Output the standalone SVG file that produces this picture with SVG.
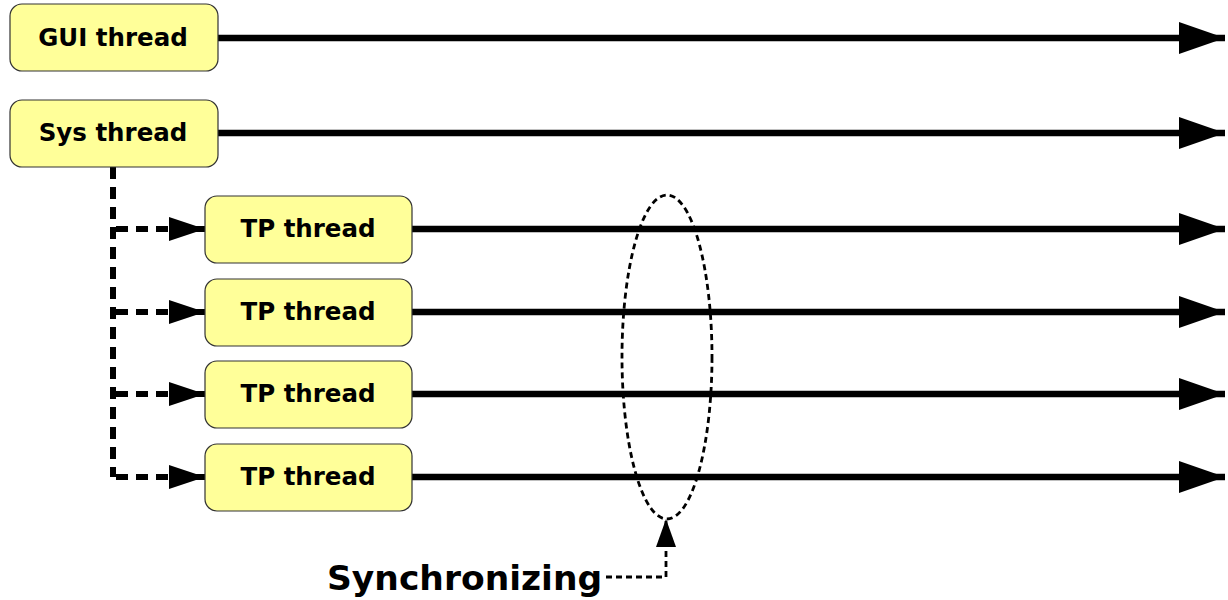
<svg xmlns="http://www.w3.org/2000/svg" width="1228" height="600" viewBox="0 0 1228 600">
  <style>
    .box { fill: #ffff99; stroke: #333333; stroke-width: 1.2; }
    .label { font-family: "DejaVu Sans", sans-serif; font-weight: bold; font-size: 24.5px; text-anchor: middle; fill: #000; }
    .timeline { stroke: #000; stroke-width: 6.5; fill: none; }
    .spawn { stroke: #000; stroke-width: 6; fill: none; stroke-dasharray: 12 8; }
    .sync { stroke: #000; stroke-width: 2.8; fill: none; stroke-dasharray: 6 4; }
    .caption { font-family: "DejaVu Sans", sans-serif; font-weight: bold; font-size: 34.5px; fill: #000; }
  </style>
  <defs>
    <marker id="bigArrow" markerUnits="userSpaceOnUse" markerWidth="46" markerHeight="32" refX="46" refY="16" orient="auto">
      <path d="M0,0 L46,16 L0,32 Z" fill="#000"/>
    </marker>
    <marker id="smallArrow" markerUnits="userSpaceOnUse" markerWidth="36" markerHeight="24" refX="36" refY="12" orient="auto">
      <path d="M0,0 L36,12 L0,24 Z" fill="#000"/>
    </marker>
    <marker id="syncArrow" markerUnits="userSpaceOnUse" markerWidth="28" markerHeight="20" refX="28" refY="10" orient="auto">
      <path d="M0,0 L28,10 L0,20 Z" fill="#000"/>
    </marker>
  </defs>

  <!-- thread timelines and spawn links -->
  <g id="connectors">
    <line class="timeline" x1="218" y1="38" x2="1225" y2="38" marker-end="url(#bigArrow)"/>
    <line class="timeline" x1="218" y1="133" x2="1225" y2="133" marker-end="url(#bigArrow)"/>
    <line class="timeline" x1="412" y1="229" x2="1225" y2="229" marker-end="url(#bigArrow)"/>
    <line class="timeline" x1="412" y1="312" x2="1225" y2="312" marker-end="url(#bigArrow)"/>
    <line class="timeline" x1="412" y1="394" x2="1225" y2="394" marker-end="url(#bigArrow)"/>
    <line class="timeline" x1="412" y1="477" x2="1225" y2="477" marker-end="url(#bigArrow)"/>

    <line class="spawn" x1="113" y1="167" x2="113" y2="477"/>
    <line class="spawn" x1="116" y1="229" x2="205" y2="229" marker-end="url(#smallArrow)"/>
    <line class="spawn" x1="116" y1="312" x2="205" y2="312" marker-end="url(#smallArrow)"/>
    <line class="spawn" x1="116" y1="394" x2="205" y2="394" marker-end="url(#smallArrow)"/>
    <line class="spawn" x1="116" y1="477" x2="205" y2="477" marker-end="url(#smallArrow)"/>

    <ellipse class="sync" cx="667" cy="357" rx="45" ry="162"/>
    <polyline class="sync" points="606,577 666,577 666,519" marker-end="url(#syncArrow)"/>
  </g>

  <g id="gui">
    <rect class="box" x="10" y="4" width="208" height="67" rx="12"/>
    <text class="label" x="113" y="46">GUI thread</text>
  </g>
  <g id="sys">
    <rect class="box" x="10" y="100" width="208" height="67" rx="12"/>
    <text class="label" x="113" y="141">Sys thread</text>
  </g>
  <g id="tp1">
    <rect class="box" x="205" y="196" width="207" height="67" rx="12"/>
    <text class="label" x="308" y="237">TP thread</text>
  </g>
  <g id="tp2">
    <rect class="box" x="205" y="279" width="207" height="67" rx="12"/>
    <text class="label" x="308" y="320">TP thread</text>
  </g>
  <g id="tp3">
    <rect class="box" x="205" y="361" width="207" height="67" rx="12"/>
    <text class="label" x="308" y="402">TP thread</text>
  </g>
  <g id="tp4">
    <rect class="box" x="205" y="444" width="207" height="67" rx="12"/>
    <text class="label" x="308" y="485">TP thread</text>
  </g>

  <g id="synchronizing">
    <text class="caption" x="327" y="590">Synchronizing</text>
  </g>
</svg>
